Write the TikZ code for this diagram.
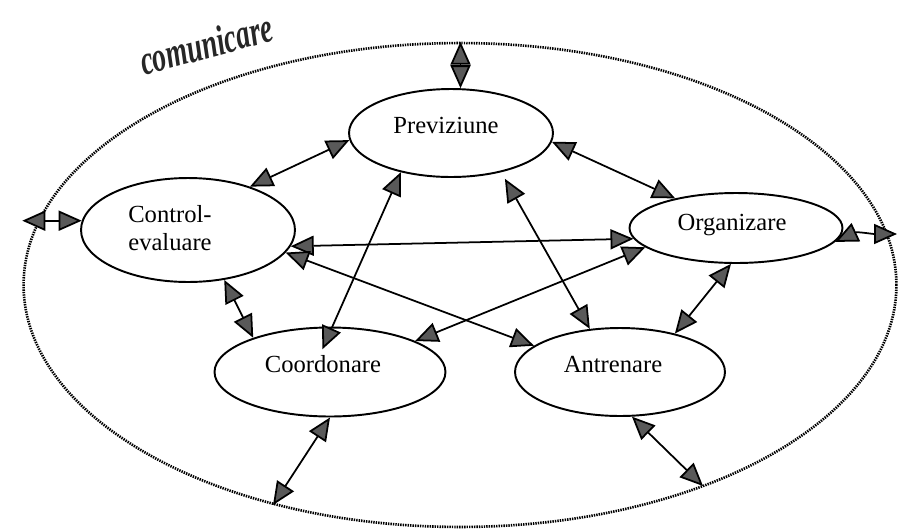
\documentclass[tikz,border=0pt]{standalone}
\usepackage{fontspec}
\setmainfont{Liberation Serif}
\newfontfamily\comfont[FakeStretch=0.66]{Liberation Serif}
\usepackage{tikz}
\usetikzlibrary{shapes,arrows,arrows.meta,positioning}

\tikzset{
  proc/.style={draw,ellipse,line width=1.1pt,inner sep=0pt},
  txt/.style={font=\fontsize{14}{15.5}\selectfont,align=center,inner sep=0pt},
  link/.style={line width=1pt,{Triangle[length=0.46cm,width=0.40cm,fill=black!65]}-{Triangle[length=0.46cm,width=0.40cm,fill=black!65]}},
}

\begin{document}
\begin{tikzpicture}[x=0.02cm,y=-0.02cm]
			\useasboundingbox (0,0) rectangle (906,528);
			% communication border
			\node[draw,ellipse,line width=1.5pt,dash pattern=on 0.8pt off 0.6pt,
				minimum width=17.46cm,minimum height=9.68cm,inner sep=0pt] (com) at (460,285) {};
			\node[font=\comfont\fontsize{24}{24}\selectfont\bfseries\itshape,text=black!85,rotate=15,inner sep=0pt] (comtxt) at (206,44) {comunicare};
			% functions
			\node[proc,minimum width=4.08cm,minimum height=1.76cm] (prev) at (451,133) {};
			\node[proc,minimum width=4.28cm,minimum height=2.08cm] (ctrl) at (188,230) {};
			\node[proc,minimum width=4.26cm,minimum height=1.40cm] (org) at (736,228) {};
			\node[proc,minimum width=4.62cm,minimum height=1.78cm] (coord) at (330,372) {};
			\node[proc,minimum width=4.20cm,minimum height=1.76cm] (antr) at (620,372) {};
			% texts
			\node[txt] (prevtxt) at (446,125) {Previziune};
			\node[txt] (ctrltxt) at (170,228) {Control-\\evaluare};
			\node[txt] (orgtxt) at (732,225) {Organizare};
			\node[txt] (coordtxt) at (323,364) {Coordonare};
			\node[txt] (antrtxt) at (613,364) {Antrenare};
			% free ends on the border
			\coordinate (orgout) at (897,234);
			\coordinate (coordout) at (273,505);
			\coordinate (antrout) at (703,486);
			% links between functions
			\draw[link] (prev.184) -- (ctrl.35);
			\draw[link] (prev.355) -- (org.154);
			\draw[link,shorten >=-0.5cm] (prev.218) -- (coord.87);
			\draw[link,shorten <=0.15cm] (prev.322) -- (antr.125);
			\draw[link] (ctrl.351) -- (org.186);
			\draw[link] (ctrl.347) -- (antr.163);
			\draw[link] (ctrl.306) -- (coord.156);
			\draw[link] (org.192) -- (coord.20);
			\draw[link] (org.262) -- (antr.35);
			% links to the border
			\draw[link] (prev.78) -- (prev.78 |- com.north);
			\draw[link] (ctrl.175) -- (ctrl.175 -| com.west);
			\draw[link] (org.352) to[out=25,in=180] (orgout);
			\draw[link] (coord.270) -- (coordout);
			\draw[link] (antr.285) -- (antrout);
		\end{tikzpicture}
\end{document}
